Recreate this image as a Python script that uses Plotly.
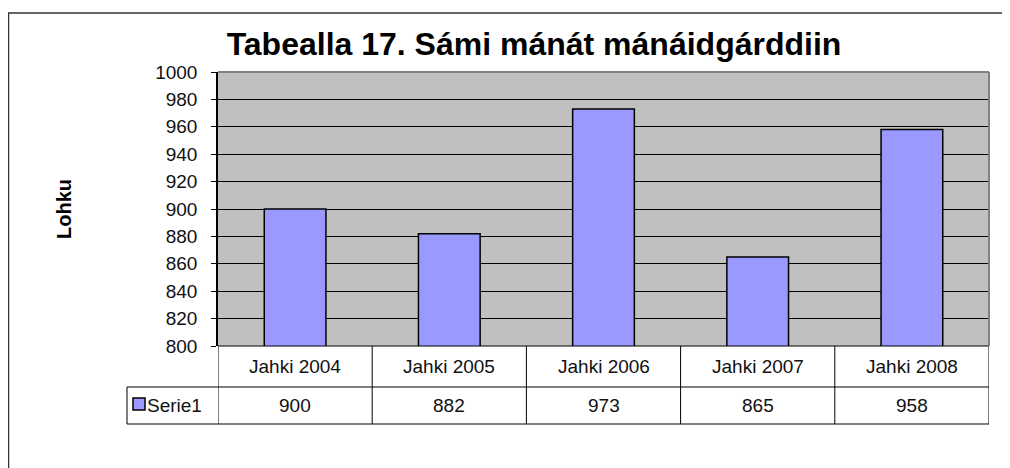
import plotly.graph_objects as go

categories = ["Jahki 2004", "Jahki 2005", "Jahki 2006", "Jahki 2007", "Jahki 2008"]
values = [900, 882, 973, 865, 958]
series_name = "Serie1"
y_ticks = list(range(800, 1001, 20))
title_text = "Tabealla 17. Sámi mánát mánáidgárddiin"
y_title = "Lohku"

OFF = 8  # page body margin offset
W, H = 1010 - OFF, 468 - OFF
L, R, T, B = 218 - OFF, 1010 - 989, 72 - OFF, 468 - 346
PH = H - T - B
PW = W - L - R
FONT = "Liberation Sans, Arial, sans-serif"
BAR = "#9999FF"
TXT = 19

xs = list(range(len(categories)))

fig = go.Figure()
fig.add_trace(go.Bar(
    x=xs, y=values, width=0.4,
    marker=dict(color=BAR, line=dict(color="black", width=1.5)),
    name=series_name, showlegend=False, hoverinfo="y",
))

def py(pix):
    # reference pixel y (from top) -> paper y
    return (H - B - (pix - OFF)) / PH

def pxp(pix):
    return (pix - OFF - L) / PW

shapes = []
annotations = []
line_k = dict(color="black", width=1)

row1_top, row1_bot, row2_bot = py(346), py(387), py(424)
legend_left = pxp(127)

shapes.append(dict(type="line", xref="paper", yref="paper", x0=0, x1=1,
                   y0=row1_top, y1=row1_top, line=line_k))
shapes.append(dict(type="line", xref="paper", yref="paper", x0=legend_left, x1=1,
                   y0=row1_bot, y1=row1_bot, line=line_k))
shapes.append(dict(type="line", xref="paper", yref="paper", x0=legend_left, x1=1,
                   y0=row2_bot, y1=row2_bot, line=line_k))
for i in range(len(categories) + 1):
    xb = i - 0.5
    shapes.append(dict(type="line", xref="x", yref="paper", x0=xb, x1=xb,
                       y0=row1_top, y1=row2_bot, line=line_k))
shapes.append(dict(type="line", xref="paper", yref="paper", x0=legend_left, x1=legend_left,
                   y0=row1_bot, y1=row2_bot, line=line_k))

for i, (c, v) in enumerate(zip(categories, values)):
    annotations.append(dict(x=i, y=(row1_top + row1_bot) / 2, xref="x", yref="paper",
                            xanchor="center", yanchor="middle",
                            text=c, showarrow=False, font=dict(family=FONT, size=TXT, color="#111")))
    annotations.append(dict(x=i, y=(row1_bot + row2_bot) / 2, xref="x", yref="paper",
                            xanchor="center", yanchor="middle",
                            text=str(v), showarrow=False, font=dict(family=FONT, size=TXT, color="#111")))

# legend key
shapes.append(dict(type="rect", xref="paper", yref="paper",
                   x0=pxp(133), x1=pxp(145), y0=py(398), y1=py(410),
                   fillcolor=BAR, line=dict(color="black", width=1.5)))
annotations.append(dict(x=pxp(145), y=(row1_bot + row2_bot) / 2, xref="paper", yref="paper",
                        text=series_name, showarrow=False, xanchor="left", yanchor="middle",
                        font=dict(family=FONT, size=TXT, color="#111")))

# plot area gray border top/right
shapes.append(dict(type="line", xref="paper", yref="paper", x0=0, x1=1, y0=1, y1=1,
                   line=dict(color="#808080", width=2)))
shapes.append(dict(type="line", xref="paper", yref="paper", x0=1, x1=1, y0=0, y1=1,
                   line=dict(color="#808080", width=2)))

# outer chart border
shapes.append(dict(type="rect", xref="paper", yref="paper",
                   x0=pxp(8.5), x1=pxp(1030), y0=py(13), y1=py(490),
                   line=dict(color="#333333", width=1.5), fillcolor="rgba(0,0,0,0)", layer="below"))

# y-axis title
annotations.append(dict(x=pxp(64), y=py(209), xref="paper", yref="paper", text="<b>%s</b>" % y_title,
                        textangle=-90, showarrow=False, xanchor="center", yanchor="middle",
                        font=dict(family=FONT, size=20, color="black")))

fig.update_layout(
    width=W, height=H,
    margin=dict(l=L, r=R, t=T, b=B, pad=0),
    paper_bgcolor="white", plot_bgcolor="#C0C0C0",
    title=dict(text="<b>%s</b>" % title_text, x=(534 - OFF) / W, xanchor="center",
               y=1 - (44 - OFF) / H, yanchor="middle", yref="container",
               font=dict(family=FONT, size=32, color="black")),
    xaxis=dict(range=[-0.5, len(categories) - 0.5], showticklabels=False, showgrid=False,
               zeroline=False, showline=False, fixedrange=True),
    yaxis=dict(range=[800, 1000], tickvals=y_ticks, ticks="outside", ticklen=5,
               tickcolor="black", showline=True, linecolor="black", linewidth=1.5,
               showgrid=True, gridcolor="black", gridwidth=1, zeroline=False,
               ticklabelstandoff=10,
               tickfont=dict(family=FONT, size=TXT, color="#111"), fixedrange=True),
    shapes=shapes, annotations=annotations, bargap=0.6,
)

fig.write_html("out.html")
